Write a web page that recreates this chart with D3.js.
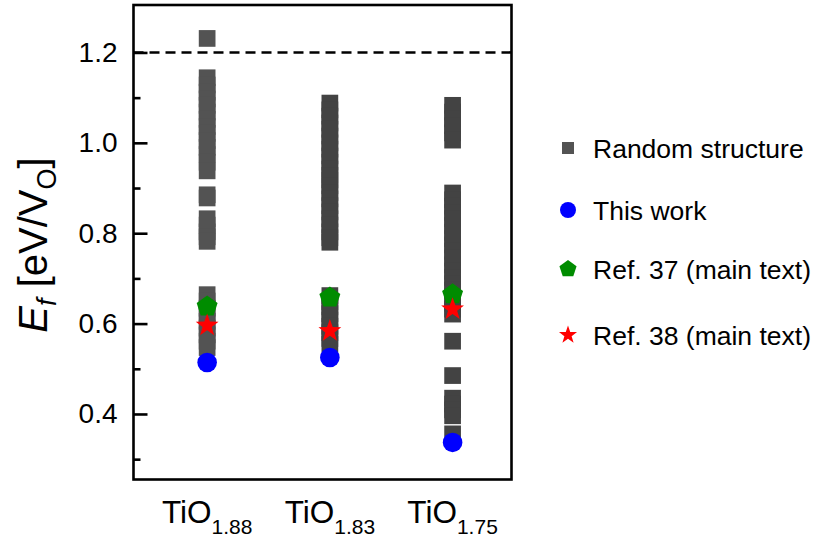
<!DOCTYPE html>
<html>
<head>
<meta charset="utf-8">
<script src="https://cdn.jsdelivr.net/npm/d3@7"></script>
<style>
  body { margin: 0; background: #fff; }
  text { font-family: Arial, "Liberation Sans", sans-serif; fill: #000; }
</style>
</head>
<body>
<svg id="chart" width="816" height="545"></svg>
<script>
// compositions (subscript of TiO_x)
var categories = ["1.88", "1.83", "1.75"];

// random structures, formation energy per vacancy
var randomTiO188 = [1.231,
  1.144, 1.128, 1.112, 1.097, 1.083, 1.068, 1.052, 1.036, 1.021, 1.005, 0.990, 0.974, 0.957, 0.938,
  0.885, 0.878,
  0.832, 0.818, 0.803, 0.792, 0.782,
  0.664, 0.650, 0.634, 0.620, 0.605, 0.590, 0.575, 0.561, 0.547];
var randomTiO183 = [
  1.088, 1.073, 1.059, 1.044, 1.030, 1.015, 1.000, 0.986, 0.971, 0.957, 0.942, 0.928,
  0.918, 0.905, 0.890, 0.876, 0.861, 0.847, 0.832, 0.818, 0.803, 0.790, 0.780,
  0.662, 0.648, 0.637, 0.622, 0.608, 0.594, 0.580, 0.567, 0.554];
var randomTiO175 = [
  1.083, 1.068, 1.053, 1.038, 1.022, 1.006,
  0.889, 0.874, 0.860, 0.846, 0.832, 0.817, 0.802, 0.788, 0.774, 0.760, 0.745, 0.730,
  0.716, 0.702, 0.688, 0.674, 0.660, 0.645, 0.632, 0.621,
  0.561, 0.485,
  0.435, 0.422, 0.409, 0.396,
  0.356];

var thisWork = [0.514, 0.525, 0.337];
var ref37 = [0.640, 0.660, 0.667];
var ref38 = [0.598, 0.586, 0.634];

var refLine = 1.2;
var yTicks = [0.4, 0.6, 0.8, 1.0, 1.2];
var yMinorTicks = [0.3, 0.5, 0.7, 0.9, 1.1];
var legendLabels = ["Random structure", "This work", "Ref. 37 (main text)", "Ref. 38 (main text)"];

var svg = d3.select("#chart");

var plot = { left: 133.5, right: 511.5, top: 5, bottom: 479.5 };

var x = d3.scaleLinear().domain([0.4, 3.48]).range([plot.left, plot.right]);
var y = d3.scaleLinear().domain([0.255, 1.305]).range([plot.bottom, plot.top]);

var squareColour = d3.scaleOrdinal().domain(categories).range(["#535353", "#434343", "#434343"]);

function starPath(r, ri) {
  var pts = [];
  for (var i = 0; i < 10; i++) {
    var a = -Math.PI / 2 + i * Math.PI / 5;
    var rr = i % 2 === 0 ? r : ri;
    pts.push([rr * Math.cos(a), rr * Math.sin(a)]);
  }
  return "M" + pts.join("L") + "Z";
}

function pentagonPath(r) {
  var pts = [];
  for (var i = 0; i < 5; i++) {
    var a = -Math.PI / 2 + i * 2 * Math.PI / 5;
    pts.push([r * Math.cos(a), r * Math.sin(a)]);
  }
  return "M" + pts.join("L") + "Z";
}

// dashed reference line
svg.append("line")
  .attr("x1", plot.left).attr("x2", plot.right)
  .attr("y1", y(refLine)).attr("y2", y(refLine))
  .attr("stroke", "#000")
  .attr("stroke-width", 2.6)
  .attr("stroke-dasharray", "10,6");

// random structure squares
var randomSets = [randomTiO188, randomTiO183, randomTiO175];
var sq = 16.7;
randomSets.forEach(function (vals, i) {
  svg.append("g")
    .selectAll("rect")
    .data(vals)
    .enter().append("rect")
    .attr("x", x(i + 1) - sq / 2)
    .attr("y", function (d) { return y(d) - sq / 2; })
    .attr("width", sq)
    .attr("height", sq)
    .attr("fill", squareColour(categories[i]));
});

// this work
svg.append("g").selectAll("circle")
  .data(thisWork)
  .enter().append("circle")
  .attr("cx", function (d, i) { return x(i + 1); })
  .attr("cy", function (d) { return y(d); })
  .attr("r", 9.8)
  .attr("fill", "#0000ff");

// ref 37
svg.append("g").selectAll("path")
  .data(ref37)
  .enter().append("path")
  .attr("d", pentagonPath(11))
  .attr("transform", function (d, i) { return "translate(" + x(i + 1) + "," + (y(d) + 1) + ")"; })
  .attr("fill", "#008c00");

// ref 38
svg.append("g").selectAll("path")
  .data(ref38)
  .enter().append("path")
  .attr("d", starPath(12, 4.8))
  .attr("transform", function (d, i) { return "translate(" + x(i + 1) + "," + (y(d) + 1) + ")"; })
  .attr("fill", "#ff0000");

// frame
svg.append("rect")
  .attr("x", plot.left).attr("y", plot.top)
  .attr("width", plot.right - plot.left)
  .attr("height", plot.bottom - plot.top)
  .attr("fill", "none")
  .attr("stroke", "#000")
  .attr("stroke-width", 2.6);

// y axis, ticks pointing in
var yAxis = svg.append("g")
  .attr("transform", "translate(" + plot.left + ",0)")
  .call(d3.axisLeft(y).tickValues(yTicks).tickSizeInner(-14).tickSizeOuter(0).tickPadding(16)
    .tickFormat(d3.format(".1f")));
yAxis.select(".domain").remove();
yAxis.selectAll(".tick line").attr("stroke", "#000").attr("stroke-width", 2.6);
yAxis.selectAll(".tick text").attr("font-size", 28).attr("font-family", "Arial, 'Liberation Sans', sans-serif");

var yMinor = svg.append("g")
  .attr("transform", "translate(" + plot.left + ",0)")
  .call(d3.axisLeft(y).tickValues(yMinorTicks).tickSizeInner(-7).tickSizeOuter(0).tickFormat(""));
yMinor.select(".domain").remove();
yMinor.selectAll(".tick line").attr("stroke", "#000").attr("stroke-width", 2.6);

// y label
var yLab = svg.append("text")
  .attr("transform", "translate(47,245) rotate(-90)")
  .attr("text-anchor", "middle")
  .attr("font-size", 40);
yLab.append("tspan").attr("font-style", "italic").text("E");
yLab.append("tspan").attr("font-style", "italic").attr("font-size", 27).attr("dy", 9).text("f");
yLab.append("tspan").attr("dy", -9).text(" [eV/V");
yLab.append("tspan").attr("font-size", 27).attr("dy", 9).text("O");
yLab.append("tspan").attr("dy", -9).text("]");

// category labels
var xLab = svg.append("g").selectAll("text")
  .data(categories)
  .enter().append("text")
  .attr("x", function (d, i) { return x(i + 1); })
  .attr("y", 523)
  .attr("text-anchor", "middle")
  .attr("font-size", 31.5);
xLab.append("tspan").text("TiO");
xLab.append("tspan").attr("font-size", 21).attr("dy", 10.5).text(function (d) { return d; });

// legend
var legendY = [148, 210, 269, 335];
var legend = svg.append("g").selectAll("g")
  .data(legendLabels)
  .enter().append("g")
  .attr("transform", function (d, i) { return "translate(568," + legendY[i] + ")"; });

legend.filter(function (d, i) { return i === 0; }).append("rect")
  .attr("x", -6).attr("y", -6).attr("width", 12).attr("height", 12).attr("fill", "#535353");
legend.filter(function (d, i) { return i === 1; }).append("circle")
  .attr("r", 8).attr("fill", "#0000ff");
legend.filter(function (d, i) { return i === 2; }).append("path")
  .attr("d", pentagonPath(9)).attr("fill", "#008c00");
legend.filter(function (d, i) { return i === 3; }).append("path")
  .attr("d", starPath(9.5, 3.8)).attr("fill", "#ff0000");

legend.append("text")
  .attr("x", 25)
  .attr("dy", "0.36em")
  .attr("font-size", 26.5)
  .text(function (d) { return d; });
</script>
</body>
</html>
